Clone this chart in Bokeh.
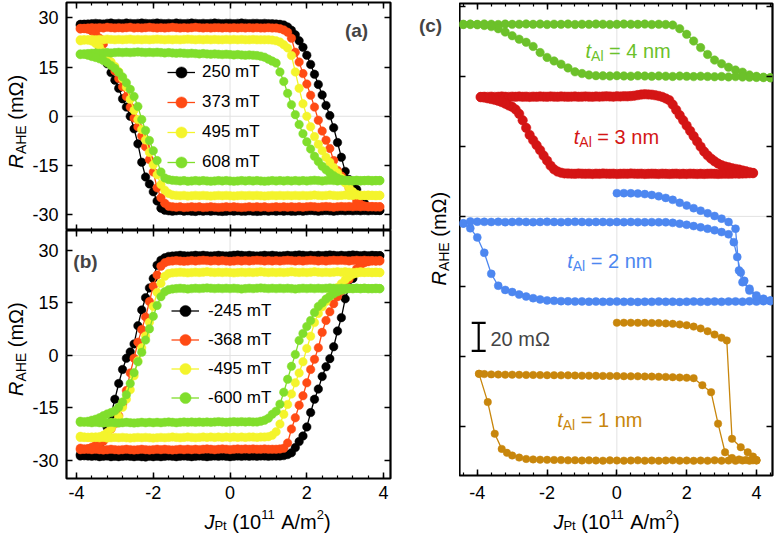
from bokeh.plotting import figure
from bokeh.layouts import row, column
from bokeh.models import Range1d, LinearAxis, FixedTicker, Label, Span, Legend, LegendItem
from bokeh.embed import file_html
from bokeh.resources import INLINE
import math

FONT = "Liberation Sans"
NB = "\u00a0"

# ---------------- data: panels (a) and (b) ----------------
J = [-3.9, -3.8, -3.7, -3.6, -3.5, -3.4, -3.3, -3.2, -3.1, -3.0,
     -2.9, -2.8, -2.7, -2.6, -2.5, -2.4, -2.3, -2.2, -2.1, -2.0,
     -1.9, -1.8, -1.7, -1.6, -1.5, -1.4, -1.3, -1.2, -1.1, -1.0,
     -0.9, -0.8, -0.7, -0.6, -0.5, -0.4, -0.3, -0.2, -0.1, 0.0,
     0.1, 0.2, 0.3, 0.4, 0.5, 0.6, 0.7, 0.8, 0.9, 1.0,
     1.1, 1.2, 1.3, 1.4, 1.5, 1.6, 1.7, 1.8, 1.9, 2.0,
     2.1, 2.2, 2.3, 2.4, 2.5, 2.6, 2.7, 2.8, 2.9, 3.0,
     3.1, 3.2, 3.3, 3.4, 3.5, 3.6, 3.7, 3.8, 3.9]

# panel (a): positive fields; *_up = sweep toward +J, *_dn = sweep toward -J (listed at ascending J)
A250_up = [27.7, 28.0, 28.1, 28.2, 28.3, 28.2, 28.1, 28.3, 28.4, 28.2,
           28.3, 28.2, 28.4, 28.3, 28.2, 28.3, 28.4, 28.3, 28.2, 28.3,
           28.4, 28.3, 28.2, 28.3, 28.2, 28.4, 28.3, 28.2, 28.3, 28.4,
           28.3, 28.2, 28.3, 28.2, 28.3, 28.4, 28.3, 28.2, 28.3, 28.3,
           28.2, 28.3, 28.4, 28.3, 28.2, 28.3, 28.3, 28.2, 28.3, 28.2,
           28.2, 28.1,
           28.0, 27.8, 27.2, 26.2, 24.8, 23.0, 21.0, 18.6, 15.8, 12.8,
           9.7, 6.5, 3.3, 0.2, -3.5, -8.0, -12.5, -16.8, -19.3, -21.0,
           -22.3, -24.5, -26.5, -27.8, -28.4, -28.6, -28.7]
A250_dn = [28.0, 28.0, 27.5, 26.2, 24.0, 21.2, 18.6, 16.0, 13.3, 11.0,
           8.5, 5.3, 2.8, 0.0, -3.8, -8.4, -14.0, -18.5, -20.6, -23.0,
           -25.8, -28.0, -28.6,
           -28.8, -28.9, -28.8, -28.7, -28.9, -28.8, -28.9, -29.0, -28.8, -28.9,
           -28.8, -28.9, -28.8, -28.9, -29.0, -28.9, -28.8, -28.9, -28.8, -28.9,
           -28.9, -28.8, -28.9, -29.0, -28.9, -28.8, -28.9, -28.8, -28.9, -28.8,
           -28.9, -28.8, -28.9, -28.9, -28.8, -28.9, -28.8, -28.7, -28.8, -28.9,
           -28.8, -28.7, -28.8, -28.9, -28.8, -28.7, -28.8, -28.7, -28.8, -28.7,
           -28.8, -28.7, -28.8, -28.7, -28.7, -28.7]
A373_up = [26.6, 26.8, 26.9, 27.0, 26.9, 27.0, 26.9, 27.1, 27.0, 26.9,
           27.0, 26.9, 27.0, 27.1, 26.9, 27.0, 26.9, 27.0, 27.1, 27.0,
           26.9, 27.0, 26.9, 27.0, 27.1, 27.0, 26.9, 27.0, 26.9, 27.0,
           27.1, 27.0, 26.9, 27.0, 26.9, 27.0, 27.0, 26.9, 27.0, 26.9,
           27.0, 26.9, 27.0, 26.9, 27.0, 26.9, 27.0, 26.9, 26.9, 27.0,
           26.9,
           26.9, 26.7, 26.3, 25.6, 23.8, 19.5, 16.5, 13.0, 9.8, 6.4,
           2.8, -1.2, -4.5, -7.3, -9.8, -13.5, -16.5, -18.2, -19.8, -21.8,
           -24.0, -25.8, -26.8, -27.3, -27.5, -27.6, -27.6, -27.6]
A373_dn = [26.8, 26.7, 26.5, 26.0, 25.2, 23.8, 22.0, 18.6, 16.0, 13.8,
           11.5, 9.0, 6.0, 2.8, -0.5, -3.2, -6.0, -9.3, -13.2, -17.0,
           -21.8, -24.8, -26.5, -27.4,
           -27.6, -27.7, -27.6, -27.8, -27.7, -27.6, -27.7, -27.6, -27.8, -27.7,
           -27.6, -27.7, -27.8, -27.7, -27.6, -27.7, -27.6, -27.7, -27.8, -27.7,
           -27.6, -27.7, -27.6, -27.7, -27.6, -27.8, -27.7, -27.6, -27.7, -27.6,
           -27.7, -27.6, -27.7, -27.6, -27.7, -27.6, -27.5, -27.6, -27.7, -27.6,
           -27.5, -27.6, -27.7, -27.6, -27.5, -27.6, -27.5, -27.6, -27.5, -27.6,
           -27.5, -27.6, -27.5, -27.6, -27.6]
A495_up = [23.0, 23.2, 23.3, 23.4, 23.3, 23.4, 23.3, 23.5, 23.4, 23.3,
           23.4, 23.3, 23.4, 23.5, 23.3, 23.4, 23.3, 23.4, 23.3, 23.4,
           23.5, 23.4, 23.3, 23.4, 23.3, 23.4, 23.3, 23.4, 23.5, 23.4,
           23.3, 23.4, 23.3, 23.4, 23.3, 23.4, 23.3, 23.3, 23.4, 23.3,
           23.4, 23.3, 23.4, 23.3, 23.3, 23.4, 23.3, 23.3, 23.3, 23.3,
           23.2, 23.0, 22.6, 21.8, 20.8, 18.5, 13.5, 8.5, 3.8, 0.0,
           -3.2, -6.2, -8.5, -10.5, -12.5, -14.0, -15.6, -17.2, -18.8, -20.3,
           -21.8, -23.0, -23.8, -24.1, -24.1, -24.2, -24.1, -24.2, -24.1]
A495_dn = [23.3, 23.3, 23.2, 22.9, 22.2, 21.0, 19.6, 18.0, 16.6, 15.2,
           13.6, 11.5, 8.9, 5.2, 1.8, -1.0, -4.0, -7.2, -11.0, -14.8,
           -17.8, -20.8, -22.5, -23.5, -24.0,
           -24.1, -24.2, -24.1, -24.3, -24.2, -24.1, -24.2, -24.1, -24.2, -24.3,
           -24.2, -24.1, -24.2, -24.1, -24.2, -24.3, -24.2, -24.1, -24.2, -24.1,
           -24.2, -24.1, -24.2, -24.3, -24.2, -24.1, -24.2, -24.1, -24.2, -24.1,
           -24.2, -24.1, -24.2, -24.1, -24.2, -24.1, -24.0, -24.1, -24.2, -24.1,
           -24.0, -24.1, -24.2, -24.1, -24.0, -24.1, -24.1, -24.0, -24.1, -24.1,
           -24.0, -24.1, -24.1, -24.1]
A608_up = [18.8, 19.0, 19.1, 19.2, 19.3, 19.2, 19.3, 19.4, 19.3, 19.4,
           19.5, 19.4, 19.5, 19.4, 19.5, 19.6, 19.5, 19.4, 19.5, 19.4,
           19.5, 19.4, 19.3, 19.4, 19.3, 19.2, 19.3, 19.2, 19.1, 19.2,
           19.1, 19.0, 19.1, 19.0, 18.9, 19.0, 18.9, 18.8, 18.9, 18.8,
           18.7, 18.8, 18.7, 18.6, 18.7, 18.6,
           18.5, 18.3, 18.0, 17.4, 16.8, 16.2, 13.5, 10.6, 7.0, 3.5,
           0.5, -2.5, -5.3, -7.8, -10.0, -12.2, -13.8, -15.2, -16.3, -17.3,
           -18.1, -18.8, -19.3, -19.6,
           -19.6, -19.7, -19.6, -19.7, -19.6, -19.6, -19.7, -19.6, -19.6]
A608_dn = [19.0, 18.9, 18.6, 18.2, 17.9, 17.5, 17.0, 16.3, 15.5, 14.6,
           13.4, 12.0, 10.2, 8.2, 6.0, 3.0, -1.0, -4.3, -7.4, -10.5,
           -13.5, -17.0, -18.8, -19.3, -19.5,
           -19.6, -19.7, -19.6, -19.8, -19.7, -19.6, -19.7, -19.6, -19.7, -19.8,
           -19.7, -19.6, -19.7, -19.6, -19.7, -19.8, -19.7, -19.6, -19.7, -19.6,
           -19.7, -19.6, -19.7, -19.8, -19.7, -19.6, -19.7, -19.6, -19.7, -19.6,
           -19.7, -19.6, -19.7, -19.6, -19.7, -19.6, -19.5, -19.6, -19.7, -19.6,
           -19.5, -19.6, -19.7, -19.6, -19.5, -19.6, -19.6, -19.5, -19.6, -19.6,
           -19.5, -19.6, -19.6, -19.6]

# panel (b): negative fields
B245_up = [-28.3, -28.6, -28.7, -28.8, -28.7, -28.9, -28.8, -28.7, -28.9, -28.8,
           -28.9, -28.8, -28.7, -28.8, -28.9, -28.8, -28.9, -29.0, -28.8, -28.9,
           -28.8, -28.9, -28.8, -28.7, -28.8, -28.9, -28.8, -28.7, -28.8, -28.9,
           -28.8, -28.7, -28.8, -28.9, -28.8, -28.7, -28.8, -28.7, -28.8, -28.9,
           -28.8, -28.7, -28.8, -28.7, -28.8, -28.7, -28.8, -28.7, -28.7, -28.8,
           -28.7, -28.7, -28.7,
           -28.6, -28.3, -27.8, -26.3, -24.6, -23.0, -20.4, -16.3, -12.5, -9.6,
           -6.0, -3.2, -0.9, 2.5, 7.0, 10.8, 16.2, 19.5, 22.0, 24.4,
           26.2, 27.4, 28.0, 28.4, 28.5, 28.5]
B245_dn = [-28.7, -28.6, -28.3, -27.8, -27.0, -25.5, -23.2, -20.5, -17.0, -12.5,
           -8.0, -4.0, -0.8, 1.0, 3.3, 8.5, 13.0, 16.5, 19.3, 22.0,
           25.8, 27.2, 27.9, 28.3,
           28.4, 28.5, 28.6, 28.5, 28.4, 28.5, 28.6, 28.5, 28.6, 28.5,
           28.4, 28.5, 28.6, 28.5, 28.4, 28.5, 28.6, 28.7, 28.6, 28.5,
           28.6, 28.5, 28.4, 28.5, 28.6, 28.5, 28.6, 28.5, 28.4, 28.5,
           28.6, 28.5, 28.6, 28.7, 28.6, 28.5, 28.6, 28.5, 28.6, 28.5,
           28.6, 28.7, 28.6, 28.5, 28.6, 28.5, 28.6, 28.7, 28.6, 28.5,
           28.6, 28.5, 28.6, 28.5, 28.5]
B368_up = [-26.5, -26.7, -26.8, -26.9, -26.8, -26.9, -27.0, -26.9, -26.8, -26.9,
           -27.0, -26.9, -26.8, -26.9, -27.0, -26.9, -26.8, -26.9, -27.0, -26.9,
           -26.8, -26.9, -26.8, -26.9, -27.0, -26.9, -26.8, -26.9, -26.8, -26.9,
           -26.8, -26.9, -26.8, -26.7, -26.8, -26.9, -26.8, -26.7, -26.8, -26.9,
           -26.8, -26.7, -26.8, -26.7, -26.8, -26.7, -26.8, -26.8, -26.7, -26.8,
           -26.8,
           -26.8, -26.7, -26.5, -25.0, -21.0, -17.8, -14.2, -11.5, -7.8, -4.0,
           -1.1, 2.2, 6.6, 10.0, 12.5, 14.8, 16.8, 18.4, 20.1, 21.8,
           23.4, 24.8, 25.8, 26.5, 26.8, 27.0, 27.0, 27.1]
B368_dn = [-26.9, -26.8, -26.6, -26.2, -25.6, -25.0, -24.5, -22.8, -21.0, -19.5,
           -17.2, -14.0, -10.0, -5.0, -0.8, 3.8, 7.4, 11.0, 15.4, 19.8,
           23.0, 25.5, 26.5, 26.9,
           27.0, 27.1, 27.0, 26.9, 27.0, 27.1, 27.0, 27.1, 27.2, 27.1,
           27.0, 27.1, 27.0, 27.1, 27.0, 26.9, 27.0, 27.1, 27.0, 27.1,
           27.0, 27.1, 27.2, 27.1, 27.0, 27.1, 27.0, 27.1, 27.0, 27.1,
           27.2, 27.1, 27.0, 27.1, 27.0, 27.1, 27.2, 27.1, 27.0, 27.1,
           27.0, 27.1, 27.2, 27.1, 27.2, 27.1, 27.0, 27.1, 27.2, 27.1,
           27.2, 27.1, 27.1, 27.0, 27.0]
B495_up = [-23.1, -23.3, -23.4, -23.5, -23.4, -23.5, -23.4, -23.6, -23.5, -23.4,
           -23.5, -23.4, -23.5, -23.6, -23.5, -23.4, -23.5, -23.4, -23.5, -23.6,
           -23.5, -23.4, -23.5, -23.4, -23.3, -23.4, -23.5, -23.4, -23.3, -23.4,
           -23.5, -23.4, -23.3, -23.4, -23.3, -23.4, -23.3, -23.4, -23.3, -23.4,
           -23.3, -23.4, -23.3, -23.4, -23.3, -23.3, -23.4, -23.3, -23.3,
           -23.2, -22.8, -21.8, -19.6, -16.8, -14.0, -11.0, -7.8, -5.0, -1.8,
           2.0, 5.5, 9.4, 12.0, 13.9, 15.4, 16.9, 18.2, 19.4, 20.5,
           21.6, 22.5, 23.2, 23.5, 23.7, 23.7, 23.8, 23.7, 23.8, 23.7]
B495_dn = [-23.4, -23.4, -23.4, -23.3, -23.3, -23.2, -22.8, -22.0, -20.9, -19.4,
           -17.5, -14.8, -12.5, -9.8, -5.8, -1.5, 2.2, 5.6, 9.5, 14.0,
           18.0, 20.6, 22.6, 23.4, 23.6,
           23.7, 23.8, 23.7, 23.6, 23.7, 23.8, 23.7, 23.8, 23.9, 23.8,
           23.7, 23.8, 23.7, 23.8, 23.7, 23.6, 23.7, 23.8, 23.7, 23.8,
           23.7, 23.8, 23.9, 23.8, 23.7, 23.8, 23.7, 23.8, 23.7, 23.8,
           23.9, 23.8, 23.7, 23.8, 23.7, 23.8, 23.9, 23.8, 23.7, 23.8,
           23.7, 23.8, 23.9, 23.8, 23.9, 23.8, 23.7, 23.8, 23.9, 23.8,
           23.8, 23.7, 23.7, 23.7]
B600_up = [-18.8, -19.0, -19.1, -19.2, -19.1, -19.2, -19.3, -19.2, -19.1, -19.2,
           -19.3, -19.2, -19.1, -19.2, -19.3, -19.2, -19.1, -19.2, -19.1, -19.2,
           -19.1, -19.2, -19.1, -19.0, -19.1, -19.2, -19.1, -19.0, -19.1, -19.0,
           -19.1, -19.0, -19.1, -19.0, -19.1, -19.0, -18.9, -19.0, -19.1, -19.0,
           -18.9, -19.0, -18.9, -19.0, -18.9, -19.0,
           -19.0, -18.8, -18.5, -17.9, -16.8, -15.9, -13.9, -10.5, -6.8, -3.1,
           0.3, 4.3, 6.3, 8.3, 10.0, 12.3, 14.0, 15.0, 16.1, 16.9,
           17.6, 18.2, 18.6, 18.9,
           19.1, 19.1, 19.2, 19.1, 19.2, 19.1, 19.1, 19.2, 19.1]
B600_dn = [-19.1, -19.0, -18.8, -18.5, -18.2, -17.8, -17.2, -16.7, -16.3, -15.8,
           -14.8, -13.3, -11.2, -8.0, -4.9, -1.8, 0.9, 4.4, 7.6, 11.2,
           14.3, 16.8, 18.2, 18.8,
           19.0, 19.1, 19.2, 19.1, 19.0, 19.1, 19.2, 19.1, 19.2, 19.3,
           19.2, 19.1, 19.2, 19.1, 19.2, 19.1, 19.2, 19.1, 19.0, 19.1,
           19.2, 19.1, 19.2, 19.3, 19.2, 19.1, 19.2, 19.1, 19.2, 19.1,
           19.2, 19.1, 19.0, 19.1, 19.2, 19.1, 19.2, 19.1, 19.2, 19.1,
           19.2, 19.3, 19.2, 19.1, 19.2, 19.1, 19.2, 19.1, 19.2, 19.1,
           19.2, 19.1, 19.1, 19.1, 19.1]

A_LABELS = ["250 mT", "373 mT", "495 mT", "608 mT"]
B_LABELS = ["-245 mT", "-368 mT", "-495 mT", "-600 mT"]
AB_COLORS = ["#000000", "#FF4A14", "#F4F42C", "#80DE2C"]

# ---------------- data: panel (c) (offset curves, mOhm) ----------------
JC4 = [-4.4, -4.2, -4.0, -3.8, -3.6, -3.4, -3.2, -3.0, -2.8, -2.6,
       -2.4, -2.2, -2.0, -1.8, -1.6, -1.4, -1.2, -1.0, -0.8, -0.6,
       -0.4, -0.2, 0.0, 0.2, 0.4, 0.6, 0.8, 1.0, 1.2, 1.4,
       1.6, 1.8, 2.0, 2.2, 2.4, 2.6, 2.8, 3.0, 3.2, 3.4,
       3.6, 3.8, 4.0, 4.2, 4.4]
C4_up = [137.0, 137.3, 137.1, 137.4, 137.2, 137.0, 137.3, 137.1, 137.2, 137.4,
         137.1, 137.3, 137.0, 137.2, 137.1, 137.3, 137.0, 137.2, 137.1, 137.3,
         137.2, 137.0, 137.1, 137.3, 137.2, 137.1, 137.3, 137.0, 137.2, 137.0,
         136.6,
         134.0, 130.0, 125.2, 120.5, 115.6, 111.6, 109.0, 106.5, 104.5, 103.0,
         101.0, 100.0, 99.4, 99.0]
C4_dn = [137.1, 137.0, 136.8, 136.3, 135.5, 134.0, 131.6, 129.0, 126.5, 124.3,
         121.3, 117.0, 113.5, 111.0, 108.7, 106.0, 103.2, 102.0, 101.0, 100.5,
         100.4, 100.2, 100.5, 100.3, 100.1, 100.4, 100.2, 100.0, 100.3, 100.1,
         99.9, 100.2, 100.0, 99.8, 100.1, 99.9, 99.7, 99.9, 99.6, 99.8,
         99.5, 99.4, 99.2, 99.1, 99.0]

C3_up = [85.2, 85.4, 85.3, 85.5, 85.3, 85.4, 85.6, 85.4, 85.3, 85.5,
         85.4, 85.6, 85.4, 85.5, 85.3, 85.5, 85.4, 85.6, 85.5, 85.4,
         85.6, 85.5, 85.4, 85.6, 85.5, 85.4, 85.5, 85.6, 85.4, 85.5,
         85.6, 85.5, 85.4, 85.6, 85.5, 85.6, 85.7, 85.6, 85.5, 85.7,
         85.6, 85.8, 85.7, 85.9, 86.2, 86.6, 87.0, 87.2, 87.1, 86.9,
         86.5, 86.0, 85.3, 84.2,
         83.0, 79.8, 76.0, 72.3, 68.6, 64.8, 61.0, 57.3, 53.5, 49.8,
         46.3, 43.5, 41.2, 39.3, 37.7, 36.5, 35.7, 35.0, 34.4, 33.9,
         33.4, 32.8, 32.2, 31.6, 31.0]
C3_dn = [85.2, 84.8, 84.3, 83.8, 83.2, 82.5, 81.6, 80.5, 79.2, 78.2,
         76.3, 73.2, 68.6, 63.2, 58.2, 54.4, 50.8, 47.3, 43.4, 39.8,
         36.2, 33.6, 32.0, 31.2, 30.7,
         30.6, 30.5, 30.4, 30.6, 30.5, 30.4, 30.5, 30.3, 30.5, 30.4,
         30.6, 30.5, 30.4, 30.5, 30.3, 30.4, 30.5, 30.4, 30.6, 30.5,
         30.4, 30.5, 30.3, 30.4, 30.5, 30.4, 30.3, 30.5, 30.4, 30.3,
         30.4, 30.5, 30.3, 30.4, 30.3, 30.5, 30.4, 30.3, 30.4, 30.3,
         30.4, 30.5, 30.4, 30.3, 30.4, 30.5, 30.4, 30.5, 30.6, 30.5,
         30.6, 30.7, 30.8, 30.9]

# t_Al = 2 nm: initial sweep from 0, then down-sweep, then up-sweep
C2_init_J = [0.0, 0.2, 0.4, 0.6, 0.8, 1.0, 1.2, 1.4, 1.6, 1.8,
             2.0, 2.2, 2.4, 2.6, 2.8, 3.0, 3.2, 3.4, 3.5, 3.6,
             3.8, 4.0, 4.2, 4.4]
C2_init = [16.6, 16.6, 16.5, 16.3, 15.9, 15.3, 14.4, 13.2, 11.8, 9.7,
           7.8, 5.9, 4.1, 2.2, 0.3, -1.6, -4.0, -8.8, -38.6, -47.0,
           -51.6, -56.4, -58.8, -60.0]
C2_dn_J = [4.4, 4.2, 4.0, 3.8, 3.6, 3.4, 3.2, 3.0, 2.8, 2.6,
           2.4, 2.2, 2.0, 1.8, 1.6, 1.4, 1.2, 1.0, 0.8, 0.6,
           0.4, 0.2, 0.0, -0.2, -0.4, -0.6, -0.8, -1.0, -1.2, -1.4,
           -1.6, -1.8, -2.0, -2.2, -2.4, -2.6, -2.8, -3.0, -3.2, -3.4,
           -3.6, -3.8, -4.0, -4.2, -4.4]
C2_dn = [-60.2, -60.5, -60.8, -60.6, -60.9, -60.7, -60.8, -61.0, -60.8, -60.9,
         -61.0, -60.8, -60.9, -61.1, -60.9, -61.0, -60.8, -61.0, -60.9, -61.1,
         -60.9, -61.0, -60.8, -60.9, -61.0, -60.8, -60.9, -60.7, -60.8, -60.6,
         -60.5, -60.3, -60.0, -59.3, -58.4, -57.2, -55.8, -54.0, -52.5, -49.5,
         -41.0, -26.0, -15.0, -8.5, -5.0]
C2_up_J = [-4.4, -4.2, -4.0, -3.8, -3.6, -3.4, -3.2, -3.0, -2.8, -2.6,
           -2.4, -2.2, -2.0, -1.8, -1.6, -1.4, -1.2, -1.0, -0.8, -0.6,
           -0.4, -0.2, 0.0, 0.2, 0.4, 0.6, 0.8, 1.0, 1.2, 1.4,
           1.6, 1.8, 2.0, 2.2, 2.4, 2.6, 2.8, 3.0, 3.2,
           3.35, 3.45, 3.55, 3.65, 3.8, 4.0, 4.2, 4.4]
C2_up = [-5.0, -3.6, -3.8, -3.9, -4.0, -3.9, -4.1, -4.0, -3.9, -4.0,
         -4.1, -4.0, -3.9, -4.0, -4.1, -4.0, -3.9, -4.0, -4.1, -4.0,
         -4.0, -4.1, -4.0, -4.1, -4.0, -4.1, -4.2, -4.1, -4.2, -4.2,
         -4.6, -5.2, -6.0, -6.9, -7.8, -8.8, -9.9, -11.2, -12.8,
         -18.4, -29.0, -40.0, -46.0, -53.0, -57.6, -59.8, -60.5]

# t_Al = 1 nm: initial sweep from 0, then down-sweep, then up-sweep
C1_init_J = [0.0, 0.2, 0.4, 0.6, 0.8, 1.0, 1.2, 1.4, 1.6, 1.8,
             2.0, 2.2, 2.4, 2.6, 2.8, 3.0, 3.15, 3.3, 3.55, 3.75,
             3.9, 4.0]
C1_init = [-75.9, -75.9, -75.9, -76.0, -76.0, -76.1, -76.2, -76.4, -76.7, -77.1,
           -77.7, -78.7, -80.0, -82.0, -84.4, -86.6, -88.6, -158.8, -164.8, -168.4,
           -171.5, -174.0]
C1_dn_J = [4.0, 3.8, 3.6, 3.4, 3.2, 3.0, 2.8, 2.6, 2.4, 2.2,
           2.0, 1.8, 1.6, 1.4, 1.2, 1.0, 0.8, 0.6, 0.4, 0.2,
           0.0, -0.2, -0.4, -0.6, -0.8, -1.0, -1.2, -1.4, -1.6, -1.8,
           -2.0, -2.2, -2.4, -2.6, -2.8, -3.0, -3.15, -3.3, -3.5, -3.7,
           -3.95]
C1_dn = [-174.2, -174.4, -174.3, -174.5, -174.3, -174.4, -174.2, -174.4, -174.3, -174.5,
         -174.3, -174.4, -174.2, -174.3, -174.5, -174.3, -174.4, -174.2, -174.3, -174.4,
         -174.3, -174.2, -174.4, -174.3, -174.2, -174.3, -174.1, -174.2, -174.0, -173.9,
         -173.8, -173.7, -173.5, -173.2, -172.2, -170.7, -168.8, -166.0, -155.2, -132.6,
         -112.4]
C1_up_J = [-3.95, -3.8, -3.6, -3.4, -3.2, -3.0, -2.8, -2.6, -2.4, -2.2,
           -2.0, -1.8, -1.6, -1.4, -1.2, -1.0, -0.8, -0.6, -0.4, -0.2,
           0.0, 0.2, 0.4, 0.6, 0.8, 1.0, 1.2, 1.4, 1.6, 1.8,
           2.0, 2.2, 2.45, 2.7, 2.9, 3.1, 3.3, 3.5, 3.7, 3.9,
           4.0]
C1_up = [-112.4, -112.6, -112.8, -112.9, -113.0, -113.0, -113.1, -113.2, -113.2, -113.3,
         -113.4, -113.4, -113.5, -113.5, -113.6, -113.7, -113.7, -113.8, -113.9, -113.9,
         -114.0, -114.1, -114.2, -114.2, -114.3, -114.4, -114.5, -114.6, -114.8, -115.0,
         -115.2, -115.5, -120.5, -125.5, -148.0, -168.4, -172.5, -173.5, -174.0, -174.2,
         -174.3]

C_LABELS = ["4 nm", "3 nm", "2 nm", "1 nm"]
C_COLORS = ["#6CC12A", "#D41515", "#4D87F0", "#C8860C"]

SCALE_X = -3.96      # position of the 20 mOhm scale bar
SCALE_Y0 = -96.0
SCALE_LEN = 20.0

for a, b in [(A250_up, A250_dn), (A373_up, A373_dn), (A495_up, A495_dn), (A608_up, A608_dn),
             (B245_up, B245_dn), (B368_up, B368_dn), (B495_up, B495_dn), (B600_up, B600_dn),
             (C3_up, C3_dn)]:
    assert len(a) == len(J) and len(b) == len(J), (len(a), len(b))
assert len(C4_up) == len(JC4) and len(C4_dn) == len(JC4)
assert len(C2_init) == len(C2_init_J) and len(C2_dn) == len(C2_dn_J) and len(C2_up) == len(C2_up_J)
assert len(C1_init) == len(C1_init_J) and len(C1_dn) == len(C1_dn_J) and len(C1_up) == len(C1_up_J)

# ---------------- helpers ----------------
ADV = {' ': .278, NB: .278, '(': .333, ')': .333, '-': .333, '/': .278, '=': .584,
       'A': .667, 'E': .667, 'H': .722, 'J': .5, 'P': .667, 'R': .722, 'T': .611,
       'l': .222, 'm': .833, 'n': .556, 't': .278, 'Ω': .768}


def tw(s, size):
    return sum(ADV.get(c, .556) for c in s) * size


def rich(p, pieces, sx, sy, angle=0.0, color="black"):
    pos = 0.0
    for text, size, style, shift in pieces:
        if angle == 0.0:
            x, y = sx + pos, sy + shift
        else:
            x, y = sx - shift, sy + pos
        p.add_layout(Label(x=x, y=y, x_units="screen", y_units="screen", text=text,
                           text_font=FONT, text_font_size=f"{size}px", text_font_style=style,
                           text_color=color, text_align="left", text_baseline="middle",
                           angle=angle))
        pos += tw(text, size)


def rich_len(pieces):
    return sum(tw(t, s) for t, s, _, _ in pieces)


def make_fig(w, h, xr, yr, mbl, mbr, mbt, mbb, outline=True):
    p = figure(width=w, height=h, x_range=Range1d(*xr), y_range=Range1d(*yr),
               output_backend="svg", toolbar_location=None,
               x_axis_location=None, y_axis_location=None,
               min_border_left=mbl, min_border_right=mbr,
               min_border_top=mbt, min_border_bottom=mbb)
    p.xgrid.visible = False
    p.ygrid.visible = False
    if outline:
        p.outline_line_color = "black"
        p.outline_line_width = 2.2
    else:
        p.outline_line_color = None
    p.background_fill_color = "white"
    p.border_fill_color = "white"
    return p


def strip(w, h):
    return make_fig(w, h, (0, w), (0, h), 0, 0, 0, 0, outline=False)


def add_axis(p, side, ticks, minor=(), labels=None, standoff=8, fixed=None):
    ax = LinearAxis(ticker=FixedTicker(ticks=list(ticks), minor_ticks=list(minor)))
    if fixed is not None:
        ax.fixed_location = fixed
    ax.axis_line_color = None
    ax.major_tick_in = 6
    ax.major_tick_out = 0
    ax.minor_tick_in = 3
    ax.minor_tick_out = 0
    ax.major_tick_line_color = "black"
    ax.major_tick_line_width = 1.5
    ax.minor_tick_line_color = "black"
    ax.minor_tick_line_width = 1.2
    if labels is not None:
        ax.major_label_overrides = {t: l for t, l in zip(ticks, labels)}
        ax.major_label_text_font = FONT
        ax.major_label_text_font_size = "18px"
        ax.major_label_text_color = "black"
        ax.major_label_standoff = standoff
    else:
        ax.major_label_text_font_size = "0px"
        ax.major_label_text_color = None
        ax.major_label_standoff = 0
    p.add_layout(ax, side)


def zero_lines(p):
    p.add_layout(Span(location=0, dimension="height", line_color="#e2e2e2", line_width=1, level="underlay"))
    p.add_layout(Span(location=0, dimension="width", line_color="#e2e2e2", line_width=1, level="underlay"))


X_TICKS = [-4, -2, 0, 2, 4]
X_TICK_LABELS = ["-4", "-2", "0", "2", "4"]
X_MINOR = [-4.4, -4.0, -3.6, -3.2, -2.8, -2.4, -2.0, -1.6, -1.2, -0.8, -0.4, 0.0,
           0.4, 0.8, 1.2, 1.6, 2.0, 2.4, 2.8, 3.2, 3.6, 4.0, 4.4]
Y_TICKS_AB = [-30, -15, 0, 15, 30]
Y_TICK_LABELS_AB = ["-30", "-15", "0", "15", "30"]
Y_TICKS_C = [-150, -100, -50, 0, 50, 100, 150]

RLABEL = [("R", 20, "italic", 0), ("AHE", 14, "normal", -5), (NB + "(mΩ)", 20, "normal", 0)]
JLABEL = [("J", 20, "italic", 0), ("Pt", 13, "normal", -4), (NB + "(10", 20, "normal", 0),
          ("11", 13, "normal", 7), (NB + "A/m", 20, "normal", 0), ("2", 13, "normal", 7),
          (")", 20, "normal", 0)]

XR_AB = (-4.26, 4.18)
YR_A = (-34.8, 34.66)
YR_B = (-35.14, 35.7)
XR_C = (-4.51, 4.46)
YR_C = (-185.0, 152.0)

# ---------------- panel (a) ----------------
pa = make_fig(371, 230, XR_AB, YR_A, 34, 10, 2, 0)
zero_lines(pa)
add_axis(pa, "left", Y_TICKS_AB, labels=Y_TICK_LABELS_AB, standoff=8)
add_axis(pa, "right", Y_TICKS_AB, fixed=XR_AB[1])
add_axis(pa, "below", X_TICKS, X_MINOR, fixed=YR_A[0])
add_axis(pa, "above", X_TICKS, X_MINOR, fixed=YR_A[1])
items = []
for lab, up, dn, col in zip(A_LABELS, [A250_up, A373_up, A495_up, A608_up],
                            [A250_dn, A373_dn, A495_dn, A608_dn], AB_COLORS):
    xs = J + J[::-1]
    ys = up + dn[::-1]
    r1 = pa.line(xs, ys, line_color=col, line_width=1.3)
    r2 = pa.scatter(xs, ys, size=8.5, fill_color=col, line_color=col, line_width=0.5)
    items.append(LegendItem(label=lab, renderers=[r1, r2]))
pa.add_layout(Legend(items=items, location=(101, 53), glyph_width=28, glyph_height=30,
                     label_height=30, spacing=0, padding=0, margin=0, label_standoff=7,
                     border_line_color=None, background_fill_alpha=0,
                     label_text_font=FONT, label_text_font_size="17px", label_text_color="black"))
pa.add_layout(Label(x=290, y=200, x_units="screen", y_units="screen", text="(a)",
                    text_font=FONT, text_font_size="19px", text_font_style="bold",
                    text_align="center", text_baseline="middle"))

# ---------------- panel (b) ----------------
pb = make_fig(371, 277, XR_AB, YR_B, 34, 10, 0, 29)
zero_lines(pb)
add_axis(pb, "left", Y_TICKS_AB, labels=Y_TICK_LABELS_AB, standoff=8)
add_axis(pb, "right", Y_TICKS_AB, fixed=XR_AB[1])
add_axis(pb, "below", X_TICKS, X_MINOR, labels=X_TICK_LABELS, standoff=7)
add_axis(pb, "above", X_TICKS, X_MINOR, fixed=YR_B[1])
items = []
for lab, up, dn, col in zip(B_LABELS, [B245_up, B368_up, B495_up, B600_up],
                            [B245_dn, B368_dn, B495_dn, B600_dn], AB_COLORS):
    xs = J + J[::-1]
    ys = up + dn[::-1]
    r1 = pb.line(xs, ys, line_color=col, line_width=1.3)
    r2 = pb.scatter(xs, ys, size=8.5, fill_color=col, line_color=col, line_width=0.5)
    items.append(LegendItem(label=lab, renderers=[r1, r2]))
pb.add_layout(Legend(items=items, location=(105, 65.8), glyph_width=28, glyph_height=29,
                     label_height=29, spacing=0, padding=0, margin=0, label_standoff=9,
                     border_line_color=None, background_fill_alpha=0,
                     label_text_font=FONT, label_text_font_size="17px", label_text_color="black"))
pb.add_layout(Label(x=19, y=217.5, x_units="screen", y_units="screen", text="(b)",
                    text_font=FONT, text_font_size="19px", text_font_style="bold",
                    text_align="center", text_baseline="middle"))

# ---------------- panel (c) ----------------
pc = make_fig(316, 507, XR_C, YR_C, 0, 3, 3, 32)
zero_lines(pc)
add_axis(pc, "left", Y_TICKS_C, fixed=XR_C[0])
add_axis(pc, "right", Y_TICKS_C, fixed=XR_C[1])
add_axis(pc, "below", X_TICKS, X_MINOR, labels=X_TICK_LABELS, standoff=10)
add_axis(pc, "above", X_TICKS, X_MINOR, fixed=YR_C[1])

col4, col3, col2, col1 = C_COLORS
xs = JC4 + JC4[::-1]
ys = C4_up + C4_dn[::-1]
pc.line(xs, ys, line_color=col4, line_width=1.2)
pc.scatter(xs, ys, size=8.5, fill_color=col4, line_color=col4, line_width=0.5)

xs = J + J[::-1]
ys = C3_up + C3_dn[::-1]
pc.line(xs, ys, line_color=col3, line_width=1.2)
pc.scatter(xs, ys, size=9.5, fill_color=col3, line_color=col3, line_width=0.5)

xs = C2_init_J + C2_dn_J + C2_up_J
ys = C2_init + C2_dn + C2_up
pc.line(xs, ys, line_color=col2, line_width=1.3)
pc.scatter(xs, ys, size=8, fill_color=col2, line_color=col2, line_width=0.5)

xs = C1_init_J + C1_dn_J + C1_up_J
ys = C1_init + C1_dn + C1_up
pc.line(xs, ys, line_color=col1, line_width=1.3)
pc.scatter(xs, ys, size=7.5, fill_color=col1, line_color=col1, line_width=0.5)

# scale bar
pc.segment(x0=[SCALE_X], y0=[SCALE_Y0], x1=[SCALE_X], y1=[SCALE_Y0 + SCALE_LEN],
           line_color="black", line_width=2.2)
pc.segment(x0=[SCALE_X - 0.2, SCALE_X - 0.2], y0=[SCALE_Y0, SCALE_Y0 + SCALE_LEN],
           x1=[SCALE_X + 0.2, SCALE_X + 0.2], y1=[SCALE_Y0, SCALE_Y0 + SCALE_LEN],
           line_color="black", line_width=2.2)
pc.add_layout(Label(x=31, y=136.7, x_units="screen", y_units="screen", text="20 mΩ",
                    text_font=FONT, text_font_size="20px", text_align="left", text_baseline="middle"))

for (sx, sy), lab, col in zip([(126, 425), (114.3, 339), (107.7, 215), (97.7, 56)],
                              C_LABELS, C_COLORS):
    rich(pc, [("t", 20, "italic", 0), ("Al", 14, "normal", -5), (NB + "=" + NB + lab, 20, "normal", 0)],
         sx, sy, color=col)

# ---------------- label strips ----------------
s_ab = strip(29, 535)
rich(s_ab, RLABEL, 15, 414 - rich_len(RLABEL) / 2, angle=math.pi / 2)
rich(s_ab, RLABEL, 15, 186.5 - rich_len(RLABEL) / 2, angle=math.pi / 2)

x_ab = strip(371, 28)
rich(x_ab, JLABEL, 201 - rich_len(JLABEL) / 2, 14)

s_c = strip(59, 535)
s_c.add_layout(Label(x=30, y=510, x_units="screen", y_units="screen", text="(c)",
                     text_font=FONT, text_font_size="19px", text_font_style="bold",
                     text_align="center", text_baseline="middle"))
rich(s_c, RLABEL, 38, 297 - rich_len(RLABEL) / 2, angle=math.pi / 2)

x_c = strip(316, 28)
rich(x_c, JLABEL, 157 - rich_len(JLABEL) / 2, 14)

layout = row(s_ab, column(pa, pb, x_ab), s_c, column(pc, x_c))
open("out.html", "w").write(file_html(layout, INLINE))
